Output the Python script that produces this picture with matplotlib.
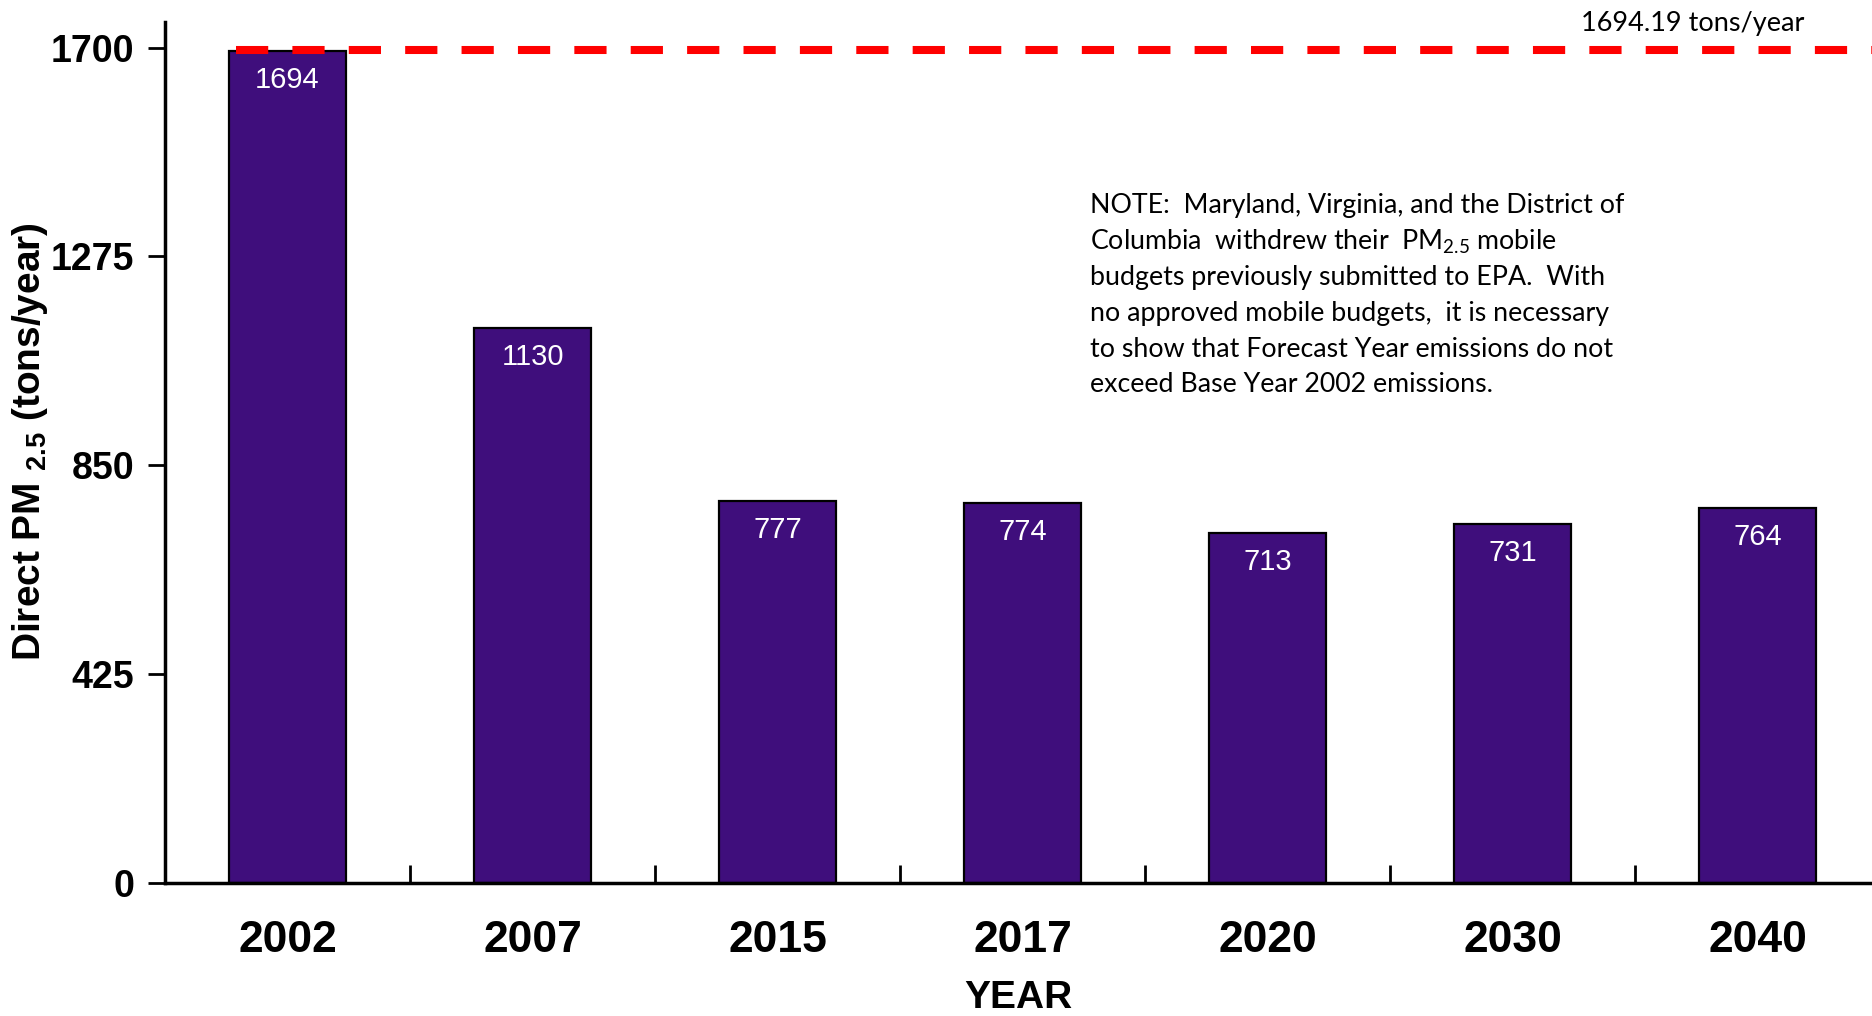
import matplotlib
matplotlib.use("Agg")
import matplotlib.pyplot as plt
import numpy as np

plt.rcParams['mathtext.fontset'] = 'custom'
plt.rcParams['mathtext.rm'] = 'Lato'
plt.rcParams['mathtext.bf'] = 'Liberation Sans:bold'

years = ['2002', '2007', '2015', '2017', '2020', '2030', '2040']
emissions = [1694, 1130, 777, 774, 713, 731, 764]
base_year_level = 1694.19
y_ticks = [0, 425, 850, 1275, 1700]
note_lines = [
    "NOTE:  Maryland, Virginia, and the District of",
    r"Columbia  withdrew their  PM$_{\mathrm{2.5}}$ mobile",
    "budgets previously submitted to EPA.  With",
    "no approved mobile budgets,  it is necessary",
    "to show that Forecast Year emissions do not",
    "exceed Base Year 2002 emissions.",
]

fig = plt.figure(figsize=(18.72, 10.16), dpi=100)
ax = fig.add_axes([165 / 1872, 1 - 883 / 1016, 1 - 165 / 1872, (883 - 22) / 1016])

x = np.arange(len(years))
bars = ax.bar(x, emissions, width=0.48, color='#3f0e7c', edgecolor='black',
              linewidth=1.6, zorder=2)

for xi, v in zip(x, emissions):
    ax.annotate(str(v), (xi, v), xytext=(0, -29), textcoords='offset pixels',
                ha='center', va='center', color='white', fontsize=21,
                family='Liberation Sans', zorder=3)

ax.hlines(base_year_level, -0.21, 6.6, colors='#ff0000', linewidth=5.8,
          linestyles=(0, (4, 3)), zorder=4, clip_on=False)
ax.text(1693 / 1872, 1 - 24 / 1016, f"{base_year_level:.2f} tons/year",
        transform=fig.transFigure, ha='center', va='center', fontsize=19.5,
        family='Lato')

for i, line in enumerate(note_lines):
    ax.text(1090 / 1872, 1 - (206 + i * 35.8) / 1016, line,
            transform=fig.transFigure, ha='left', va='center', fontsize=19.3,
            family='Lato')

ax.set_xlim(-0.5, -0.5 + (1872 - 165) / 245)
ax.set_ylim(0, 1752)
ax.set_yticks(y_ticks)
ax.set_yticklabels([str(t) for t in y_ticks], fontsize=27, fontweight='bold',
                   family='Liberation Sans')
ax.tick_params(axis='y', direction='out', length=12, width=2, pad=10)

ax.set_xticks(x)
ax.set_xticklabels(years, fontsize=32, fontweight='bold', family='Liberation Sans')
ax.set_xticks(np.arange(len(years) - 1) + 0.5, minor=True)
ax.tick_params(axis='x', which='major', length=0, pad=27)
ax.tick_params(axis='x', which='minor', direction='in', length=13, width=2)

ax.set_xlabel('YEAR', fontsize=28, fontweight='bold', family='Liberation Sans',
              labelpad=13)
ax.set_ylabel(r'Direct PM $_{\mathbf{2.5}}$ (tons/year)', fontsize=28,
              fontweight='bold', family='Liberation Sans')
ax.yaxis.label.set_va('center')
ax.yaxis.set_label_coords(-(165 - 30) / 1707, (883 - 442) / 861)

for side in ['top', 'right']:
    ax.spines[side].set_visible(False)
for side in ['left', 'bottom']:
    ax.spines[side].set_linewidth(2.5)

fig.savefig('out.png', dpi=100)
